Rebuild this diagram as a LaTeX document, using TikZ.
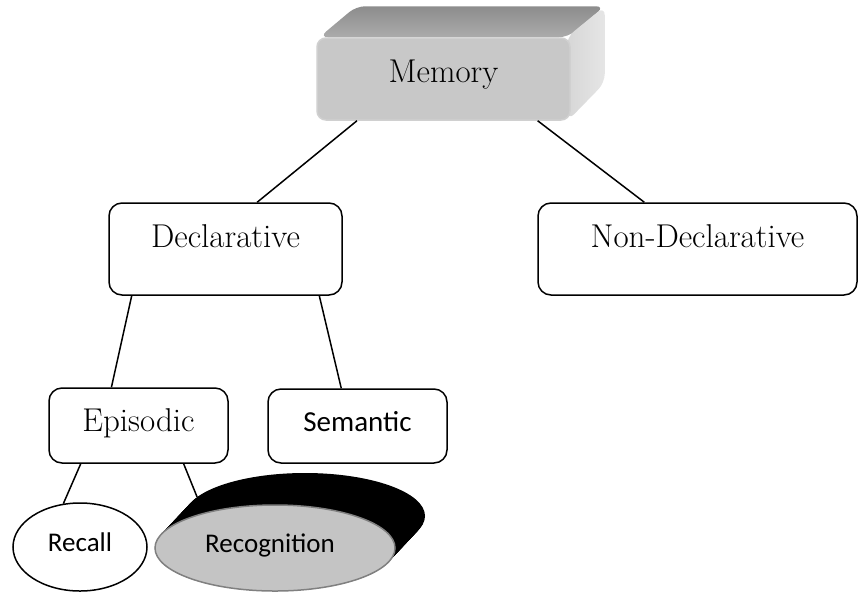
\documentclass[tikz,border=0pt]{standalone}
\usepackage{fontspec}
\newfontfamily\calibri{Carlito}
\usetikzlibrary{calc,shapes.geometric,backgrounds}
\definecolor{frontface}{HTML}{C8C8C8}
\definecolor{ovalgray}{HTML}{C4C4C4}
\begin{document}
\begin{tikzpicture}[x=1pt,y=-1pt,
	box/.style={draw,line width=1.5pt,rounded corners=13pt,fill=white,inner sep=0pt,font=\fontsize{33}{38}\selectfont,text height=22pt},
	oval/.style={draw,ellipse,line width=1.5pt,fill=white,inner sep=0pt,font=\calibri\fontsize{27}{32}\selectfont,text height=17pt,text depth=9pt},
	link/.style={line width=1.5pt}]
	\useasboundingbox (0,0) rectangle (858,592);
	\node [box,draw=frontface!85!white,fill=frontface,rounded corners=9pt,minimum width=253pt,minimum height=82pt,text depth=16pt] (mem) at (443.5,79) {Memory};
	\node [box,minimum width=233pt,minimum height=92pt,text depth=26pt] (decl) at (225.5,249) {Declarative};
	\node [box,minimum width=319pt,minimum height=92pt,text depth=26pt] (nondecl) at (697.5,249) {Non-Declarative};
	\node [box,minimum width=179pt,minimum height=75pt,text depth=11pt] (epi) at (138.5,425.5) {Episodic};
	\node [box,font=\calibri\fontsize{29}{34}\selectfont,text height=20pt,minimum width=179pt,minimum height=74pt,text depth=9pt] (sem) at (357.5,426) {Semantic};
	\node [oval,minimum width=134pt,minimum height=88pt] (recall) at (80,547) {Recall};
	\node [oval,draw=gray,fill=ovalgray,minimum width=240pt,minimum height=86pt] (recog) at (275,548) {\hspace*{-10pt}Recognition};
	\node [ellipse,minimum width=240pt,minimum height=86pt,inner sep=0pt] (recshadow) at ($(recog.center)+(30,-32)$) {};
	\begin{scope}[on background layer]
		\shade [top color=black!45,bottom color=black!33,rounded corners=9pt] ($(mem.north west)+(3,0)$) -- ++(37,-31) -- ($(mem.north east)+(34,-31)$) -- ($(mem.north east)+(-3,0)$) -- cycle;
		\shade [left color=black!16,right color=black!10,rounded corners=9pt] ($(mem.north east)+(-4,0)$) -- ++(38,-31) -- ($(mem.south east)+(34,-38)$) -- ($(mem.south east)+(-3,0)$) -- cycle;
		\foreach \t in {0,1,...,32}
			\fill [black] ($(recog.center)+(\t*30/32,-\t)$) ellipse (120 and 43);
	\end{scope}
	\draw [link] ($(mem.south west)!.16!(mem.south east)$) -- ($(decl.north west)!.635!(decl.north east)$);
	\draw [link] ($(mem.south west)!.87!(mem.south east)$) -- ($(nondecl.north west)!.334!(nondecl.north east)$);
	\draw [link] ($(decl.south west)!.10!(decl.south east)$) -- ($(epi.north west)!.35!(epi.north east)$);
	\draw [link] ($(decl.south west)!.90!(decl.south east)$) -- ($(sem.north west)!.41!(sem.north east)$);
	\draw [link] ($(epi.south west)!.18!(epi.south east)$) -- (recall.111);
	\draw [link] ($(epi.south west)!.75!(epi.south east)$) -- (recshadow.170);
\end{tikzpicture}
\end{document}
